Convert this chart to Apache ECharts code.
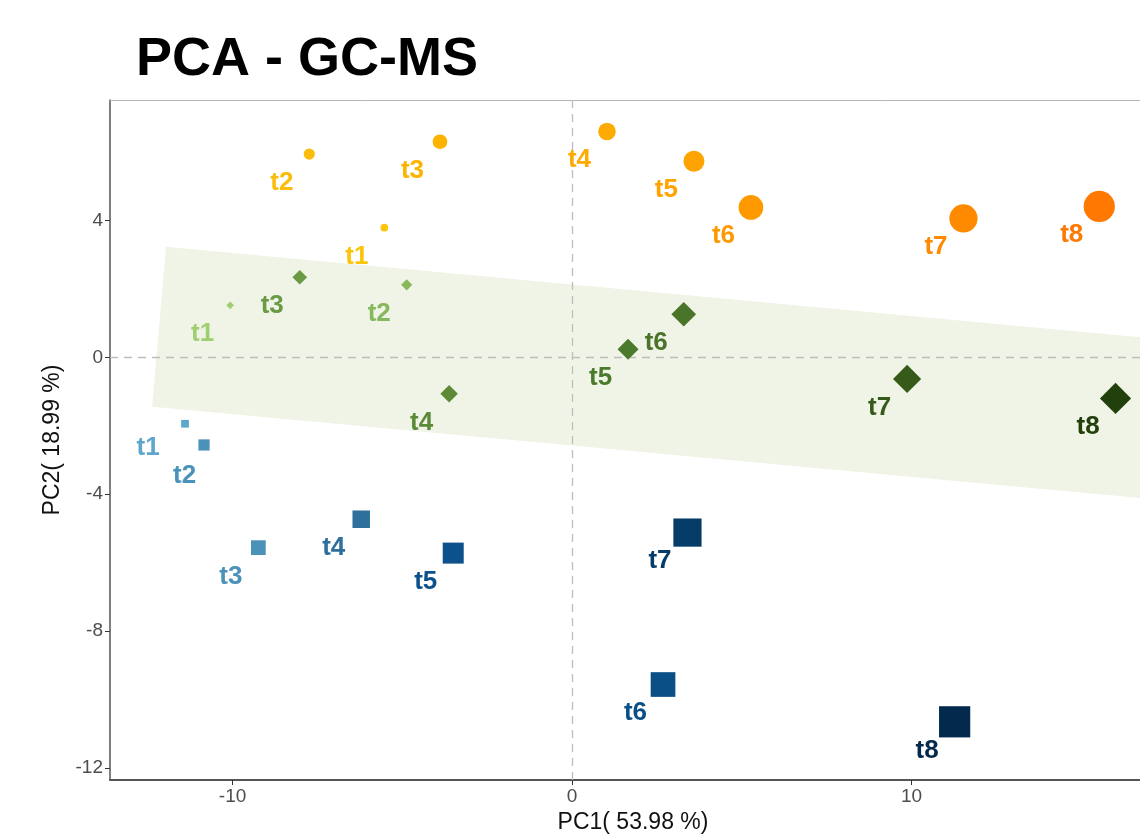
<!DOCTYPE html>
<html>
<head>
<meta charset="utf-8">
<title>PCA - GC-MS</title>
<script src="https://cdn.jsdelivr.net/npm/echarts@6/dist/echarts.min.js"></script>
<style>
    html, body { margin: 0; padding: 0; background: #fff; overflow: hidden; }
    #main { width: 1140px; height: 839px; }
</style>
</head>
<body>
<div id="main"></div>
<script>
// sampling times (point labels)
const timePoints = ['t1', 't2', 't3', 't4', 't5', 't6', 't7', 't8'];

// orange circles
const pc1Orange = [-5.53, -7.74, -3.89, 1.03, 3.59, 5.27, 11.53, 15.53];
const pc2Orange = [3.79, 5.94, 6.30, 6.60, 5.73, 4.38, 4.06, 4.41];

// green diamonds
const pc1Green = [-10.07, -4.87, -8.02, -3.62, 1.65, 3.29, 9.87, 16.01];
const pc2Green = [1.52, 2.12, 2.34, -1.06, 0.24, 1.26, -0.63, -1.20];

// blue squares
const pc1Blue = [-11.40, -10.84, -9.24, -6.21, -3.50, 2.68, 3.40, 11.27];
const pc2Blue = [-1.94, -2.56, -5.56, -4.73, -5.72, -9.56, -5.12, -10.65];

// shaded band (data coords)
const bandCorners = [[-11.96, 3.23], [18, 0.59], [18, -4.11], [-12.37, -1.44]];

const xTicks = [-10, 0, 10];
const yTicks = [-12, -8, -4, 0, 4];

// styles
const markerSizes = [7.7, 11.2, 14.7, 17.5, 21, 24.7, 28.2, 31.2];
const orangeColors = ['#fcc40a', '#fbbd0b', '#fcb400', '#fdab00', '#fea300', '#fe9900', '#ff8a00', '#ff7800'];
const greenColors = ['#a0cf72', '#87b85c', '#6b9a45', '#5c8a38', '#4b7a2c', '#4a7429', '#365b19', '#22400b'];
const blueColors = ['#5fa6cb', '#4a92b9', '#4b92b8', '#2e6f9b', '#0c518a', '#0b4f87', '#063c68', '#032a4d'];
const labelOffset = [-27.5, 28.7];
const blueLabelNudge = {0: [-37, 24], 1: [-19.5, 30.5]};

const makePoints = (xs, ys, colors, nudge) => xs.map((x, i) => {
    let item = {
        name: timePoints[i],
        value: [x, ys[i]],
        symbolSize: markerSizes[i],
        itemStyle: {color: colors[i], opacity: 1},
        label: {color: colors[i]}
    };
    if (nudge && nudge[i]) item.label.offset = nudge[i];
    return item;
});

const pointLabel = {
    show: true,
    position: 'inside',
    offset: labelOffset,
    formatter: p => p.name,
    fontFamily: 'Liberation Sans',
    fontWeight: 'bold',
    fontSize: 26
};

const axisFont = {fontFamily: 'Liberation Sans', fontSize: 23, color: '#111'};

let chart = echarts.init(document.getElementById('main'));

let option = {
    animation: false,
    backgroundColor: '#fff',
    title: {
        text: 'PCA - GC-MS',
        left: 131,
        top: 28,
        textStyle: {
            fontFamily: 'Liberation Sans',
            fontWeight: 'bold',
            fontSize: 54,
            color: '#000'
        }
    },
    grid: {
        left: 110,
        top: 100,
        width: 1030,
        height: 685,
        show: false
    },
    xAxis: [
        {
            type: 'value',
            min: -13.61,
            max: 16.73,
            splitLine: {show: false},
            axisLine: {show: true, onZero: false, lineStyle: {color: '#555', width: 2}},
            axisTick: {show: true, customValues: xTicks, length: 5, lineStyle: {color: '#333'}},
            axisLabel: {
                customValues: xTicks,
                fontFamily: 'Liberation Sans',
                fontSize: 19,
                color: '#4d4d4d',
                margin: 7
            },
            name: 'PC1( 53.98 %)',
            nameLocation: 'middle',
            nameGap: 31,
            nameTextStyle: Object.assign({padding: [0, 0, 0, 16]}, axisFont)
        },
        {
            // top frame line only
            type: 'value',
            position: 'top',
            min: -13.61,
            max: 16.73,
            splitLine: {show: false},
            axisLine: {show: true, onZero: false, lineStyle: {color: '#b5b5b5', width: 1}},
            axisTick: {show: false},
            axisLabel: {show: false}
        }
    ],
    yAxis: {
        type: 'value',
        min: -12.35,
        max: 7.52,
        splitLine: {show: false},
        axisLine: {show: true, onZero: false, lineStyle: {color: '#555', width: 1.5}},
        axisTick: {show: true, customValues: yTicks, length: 5, lineStyle: {color: '#333'}},
        axisLabel: {
            customValues: yTicks,
            fontFamily: 'Liberation Sans',
            fontSize: 19,
            color: '#4d4d4d',
            margin: 7
        },
        name: 'PC2( 18.99 %)',
        nameLocation: 'middle',
        nameRotate: 90,
        nameGap: 37,
        nameTextStyle: axisFont
    },
    series: [
        {
            type: 'custom',
            z: 1,
            silent: true,
            data: bandCorners,
            renderItem: (params, api) => {
                if (params.dataIndex !== 0) return;
                let pts = bandCorners.map(c => api.coord(c));
                let cs = params.coordSys;
                pts = echarts.graphic.clipPointsByRect(pts, {x: cs.x, y: cs.y, width: cs.width, height: cs.height});
                return {
                    type: 'polygon',
                    shape: {points: pts},
                    style: {fill: '#f0f4e7'}
                };
            }
        },
        {
            type: 'scatter',
            z: 2,
            silent: true,
            data: [],
            markLine: {
                silent: true,
                symbol: 'none',
                label: {show: false},
                lineStyle: {color: '#bdbdbd', type: [8, 6], width: 1.3},
                data: [{xAxis: 0}, {yAxis: 0}]
            }
        },
        {
            name: 'orange',
            type: 'scatter',
            z: 5,
            symbol: 'circle',
            data: makePoints(pc1Orange, pc2Orange, orangeColors),
            label: pointLabel
        },
        {
            name: 'green',
            type: 'scatter',
            z: 5,
            symbol: 'diamond',
            data: makePoints(pc1Green, pc2Green, greenColors),
            label: pointLabel
        },
        {
            name: 'blue',
            type: 'scatter',
            z: 5,
            symbol: 'rect',
            data: makePoints(pc1Blue, pc2Blue, blueColors, blueLabelNudge),
            label: pointLabel
        }
    ]
};

chart.setOption(option);
</script>
</body>
</html>
